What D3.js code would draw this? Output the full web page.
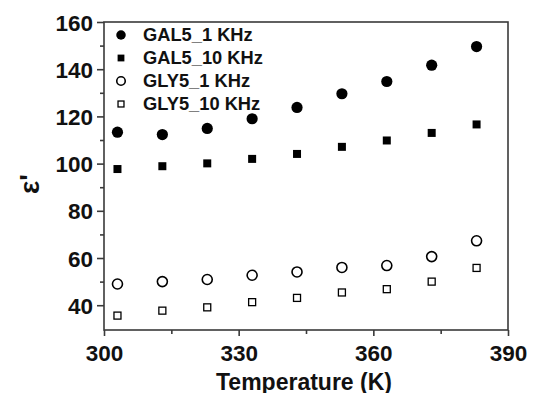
<!DOCTYPE html>
<html><head><meta charset="utf-8">
<script src="https://cdn.jsdelivr.net/npm/d3@7"></script>
<style>body{margin:0;background:#fff}svg{display:block}</style>
</head><body>
<script>
const temps = [303, 313, 323, 333, 343, 353, 363, 373, 383];
const gal5_1k = [113.3, 112.3, 114.9, 119.0, 123.8, 129.6, 134.8, 141.7, 149.6];
const gal5_10k = [97.7, 98.9, 100.1, 102.0, 104.1, 107.1, 109.8, 113.0, 116.6];
const gly5_1k = [49.0, 50.0, 50.9, 52.7, 54.1, 56.0, 56.8, 60.6, 67.3];
const gly5_10k = [35.6, 37.7, 39.1, 41.3, 43.1, 45.4, 46.8, 50.0, 55.8];
const seriesNames = ["GAL5_1 KHz", "GAL5_10 KHz", "GLY5_1 KHz", "GLY5_10 KHz"];
const xTicks = [300, 330, 360, 390];
const yTicks = [40, 60, 80, 100, 120, 140, 160];

const W = 539, H = 393;
const m = {l: 104, t: 22, r: 508, b: 330};
const svg = d3.select("body").append("svg").attr("width", W).attr("height", H);
const font = "'Liberation Sans', Arial, sans-serif";
const axisCol = "#3a3a3a";

const x = d3.scaleLinear().domain([300, 390]).range([m.l, m.r]);
const y = d3.scaleLinear().domain([29.5, 160]).range([m.b, m.t]);

// frame
svg.append("rect").attr("x", m.l).attr("y", m.t).attr("width", m.r - m.l).attr("height", m.b - m.t)
  .attr("fill", "none").attr("stroke", axisCol).attr("stroke-width", 1.6);

// axes
const xAxis = d3.axisBottom(x).tickValues(xTicks).tickSize(6).tickPadding(4).tickFormat(d3.format("d"));
const gx = svg.append("g").attr("transform", `translate(0,${m.b})`).call(xAxis);
const yAxis = d3.axisLeft(y).tickValues(yTicks).tickSize(7).tickPadding(4).tickFormat(d3.format("d"));
const gy = svg.append("g").attr("transform", `translate(${m.l},0)`).call(yAxis);
// minor ticks
const xMinor = d3.axisBottom(x).tickValues([315, 345, 375]).tickSize(4).tickFormat("");
svg.append("g").attr("transform", `translate(0,${m.b})`).call(xMinor);
const yMinor = d3.axisLeft(y).tickValues([50, 70, 90, 110, 130, 150]).tickSize(4).tickFormat("");
svg.append("g").attr("transform", `translate(${m.l},0)`).call(yMinor);

svg.selectAll(".domain").remove();
svg.selectAll(".tick line").attr("stroke", axisCol).attr("stroke-width", 1.6);
svg.selectAll(".tick text").attr("font-family", font).attr("font-weight", "bold")
  .attr("font-size", 22.5).attr("fill", "#111");
gx.selectAll(".tick text").attr("dy", "0.95em");
gy.selectAll(".tick text").attr("dy", "0.36em");

// titles
svg.append("text").attr("x", (m.l + m.r) / 2 - 2).attr("y", 390).attr("text-anchor", "middle")
  .attr("font-family", font).attr("font-weight", "bold").attr("font-size", 23).attr("fill", "#111")
  .text("Temperature (K)");
svg.append("text").attr("transform", "translate(39,184) rotate(-90)").attr("text-anchor", "middle")
  .attr("font-family", font).attr("font-weight", "bold").attr("font-size", 28).attr("fill", "#111")
  .text("ε'");

// data
const series = [
  {name: seriesNames[0], vals: gal5_1k, shape: "circle", fill: true},
  {name: seriesNames[1], vals: gal5_10k, shape: "square", fill: true},
  {name: seriesNames[2], vals: gly5_1k, shape: "circle", fill: false},
  {name: seriesNames[3], vals: gly5_10k, shape: "square", fill: false}
];

function drawSym(g, s, cx, cy, scale) {
  if (s.shape === "circle") {
    const r = (s.fill ? 5.6 : 5.0) * scale;
    g.append("circle").attr("cx", cx).attr("cy", cy).attr("r", r)
      .attr("fill", s.fill ? "#000" : "#fff").attr("stroke", "#000").attr("stroke-width", s.fill ? 0 : 1.6);
  } else {
    const a = (s.fill ? 8 : 7) * scale;
    g.append("rect").attr("x", cx - a / 2).attr("y", cy - a / 2).attr("width", a).attr("height", a)
      .attr("fill", s.fill ? "#000" : "#fff").attr("stroke", "#000").attr("stroke-width", s.fill ? 0 : 1.3);
  }
}

const gp = svg.append("g");
series.forEach(s => {
  s.vals.forEach((v, i) => drawSym(gp, s, x(temps[i]), y(v), 1));
});

// legend
const lg = svg.append("g");
series.forEach((s, i) => {
  const by = 41 + i * 23;
  drawSym(lg, s, 121, by - 6, 0.85);
  lg.append("text").attr("x", 143).attr("y", by).attr("font-family", font).attr("font-weight", "bold")
    .attr("font-size", 18.3).attr("fill", "#111").text(s.name);
});
</script>
</body></html>
